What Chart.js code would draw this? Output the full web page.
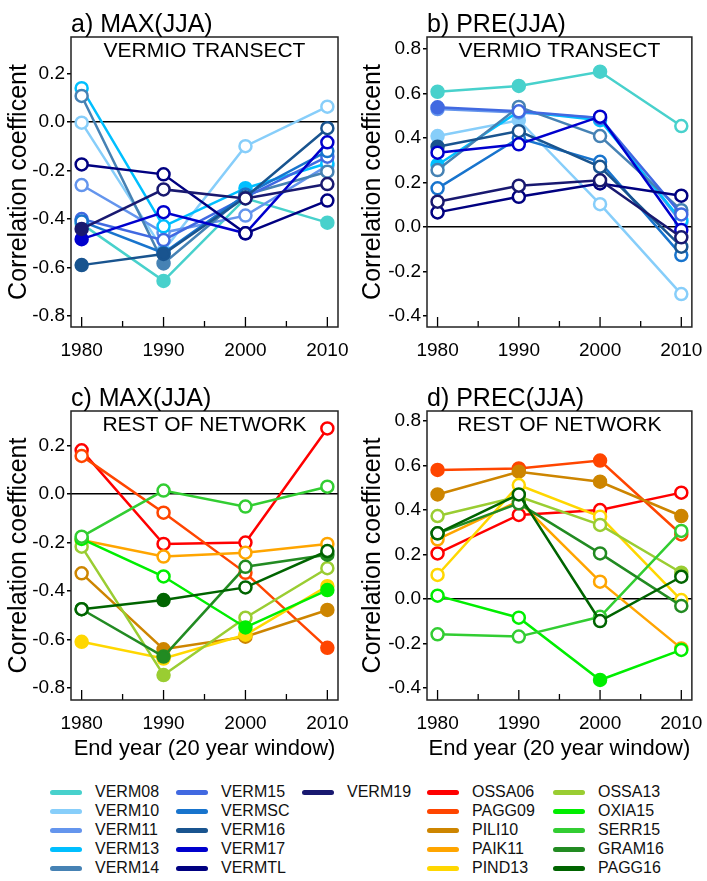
<!DOCTYPE html>
<html>
<head>
<meta charset="utf-8">
<script src="https://cdn.jsdelivr.net/npm/chart.js@4.4.1/dist/chart.umd.min.js"></script>
<style>
  body { margin: 0; background: #fff; width: 707px; height: 881px; position: relative; overflow: hidden; }
  canvas { position: absolute; }
  .lg { position: absolute; font: 16px Arial, "Liberation Sans", sans-serif; color: #111; white-space: nowrap; }
  .lg span { position: absolute; left: 0; top: 8px; width: 32px; height: 5px; border-radius: 3px; }
  .lg b { position: absolute; left: 45px; top: 0; font-weight: normal; line-height: 20px; }
</style>
</head>
<body>
<canvas id="chart_a" width="354" height="390" style="left:0;top:0"></canvas>
<canvas id="chart_b" width="353" height="390" style="left:354px;top:0"></canvas>
<canvas id="chart_c" width="354" height="406" style="left:0;top:374px"></canvas>
<canvas id="chart_d" width="353" height="406" style="left:354px;top:374px"></canvas>
<div id="legend"></div>
<script>
// end years of the 20 year windows
const years = [1980, 1990, 2000, 2010];
const minorYears = [1985, 1995, 2005];

// Vermio transect stations
const vermNames = ['VERM08', 'VERM10', 'VERM11', 'VERM13', 'VERM14', 'VERM15', 'VERMSC', 'VERM16', 'VERM17', 'VERMTL', 'VERM19'];
const vermColors = ['#48D1CC', '#87CEFA', '#6495ED', '#00BFFF', '#4682B4', '#4169E1', '#1874CD', '#19548F', '#0000CD', '#000080', '#191970'];

// rest of network
const restNames = ['OSSA06', 'PAGG09', 'PILI10', 'PAIK11', 'PIND13', 'OSSA13', 'OXIA15', 'SERR15', 'GRAM16', 'PAGG16'];
const restColors = ['#FF0000', '#FF4500', '#CD8500', '#FFA500', '#FFD700', '#9ACD32', '#00EE00', '#32CD32', '#228B22', '#006400'];

// a) MAX(JJA) vermio
const vermMax = [
    [-0.42, -0.655, -0.315, -0.415],
    [-0.003, -0.53, -0.10, 0.063],
    [-0.26, -0.456, -0.386, -0.18],
    [0.139, -0.43, -0.273, -0.17],
    [0.107, -0.583, -0.30, -0.205],
    [-0.40, -0.487, -0.31, -0.143],
    [-0.41, -0.54, -0.30, -0.12],
    [-0.59, -0.544, -0.31, -0.026],
    [-0.483, -0.372, -0.459, -0.084],
    [-0.175, -0.216, -0.459, -0.324],
    [-0.441, -0.278, -0.315, -0.256]
];
const vermMaxSig = [
    [0, 1, 0, 1], [0, 0, 0, 0], [0, 0, 0, 0], [0, 0, 1, 0], [0, 1, 0, 0], [0, 0, 0, 0],
    [0, 0, 0, 0], [1, 1, 0, 0], [1, 0, 0, 0], [0, 0, 0, 0], [1, 0, 0, 0]
];

// b) PRE(JJA) vermio
const vermPre = [
    [0.608, 0.634, 0.698, 0.454],
    [0.409, 0.48, 0.103, -0.301],
    [0.53, 0.515, 0.49, 0.02],
    [0.279, 0.52, 0.48, 0.03],
    [0.256, 0.54, 0.409, 0.076],
    [0.538, 0.52, 0.49, 0.057],
    [0.174, 0.40, 0.293, -0.126],
    [0.361, 0.431, 0.271, -0.088],
    [0.334, 0.372, 0.496, -0.013],
    [0.066, 0.136, 0.196, 0.141],
    [0.114, 0.186, 0.21, -0.046]
];
const vermPreSig = [
    [1, 1, 1, 0], [1, 1, 0, 0], [0, 0, 0, 0], [1, 0, 0, 0], [0, 0, 0, 0], [1, 0, 0, 0],
    [0, 0, 0, 0], [1, 0, 0, 0], [0, 0, 0, 0], [0, 0, 0, 0], [0, 0, 0, 0]
];

// c) MAX(JJA) rest of network
const restMax = [
    [0.18, -0.206, -0.20, 0.27],
    [0.157, -0.077, -0.325, -0.634],
    [-0.327, -0.64, -0.588, -0.478],
    [-0.19, -0.258, -0.242, -0.206],
    [-0.609, -0.678, -0.58, -0.38],
    [-0.217, -0.746, -0.51, -0.306],
    [-0.185, -0.34, -0.55, -0.396],
    [-0.176, 0.014, -0.052, 0.03],
    [-0.475, -0.67, -0.30, -0.25],
    [-0.475, -0.437, -0.385, -0.235]
];
const restMaxSig = [
    [0, 0, 0, 0], [0, 0, 0, 1], [0, 1, 1, 1], [0, 0, 0, 0], [1, 1, 1, 1],
    [0, 1, 0, 0], [0, 0, 1, 1], [0, 0, 0, 0], [0, 1, 0, 1], [0, 1, 0, 0]
];

// d) PREC(JJA) rest of network
const restPre = [
    [0.205, 0.378, 0.40, 0.478],
    [0.58, 0.587, 0.622, 0.29],
    [0.47, 0.572, 0.527, 0.373],
    [0.268, 0.44, 0.078, -0.222],
    [0.108, 0.512, 0.37, -0.005],
    [0.373, 0.46, 0.333, 0.118],
    [0.015, -0.084, -0.364, -0.229],
    [-0.159, -0.169, -0.08, 0.306],
    [0.295, 0.43, 0.205, -0.031],
    [0.295, 0.47, -0.099, 0.10]
];
const restPreSig = [
    [0, 0, 0, 0], [1, 1, 1, 0], [1, 1, 1, 1], [0, 0, 0, 0], [0, 0, 0, 0],
    [0, 0, 0, 1], [0, 0, 1, 0], [0, 0, 0, 0], [0, 0, 0, 0], [0, 0, 0, 0]
];

const maxTicks = [-0.8, -0.6, -0.4, -0.2, 0, 0.2];
const preTicks = [-0.4, -0.2, 0, 0.2, 0.4, 0.6, 0.8];

const FONT = 'Arial, "Liberation Sans", sans-serif';
Chart.defaults.font.family = FONT;
Chart.defaults.color = '#000';

// frame, inward x ticks, panel title and label
const decor = {
    id: 'decor',
    afterDraw(chart, args, opts) {
        const ctx = chart.ctx;
        const a = chart.chartArea;
        const x = chart.scales.x;
        ctx.save();
        ctx.strokeStyle = '#000';
        ctx.lineWidth = 1.3;
        ctx.beginPath();
        years.forEach(v => {
            const px = x.getPixelForValue(v);
            ctx.moveTo(px, a.bottom);
            ctx.lineTo(px, a.bottom - 10);
        });
        minorYears.forEach(v => {
            const px = x.getPixelForValue(v);
            ctx.moveTo(px, a.bottom);
            ctx.lineTo(px, a.bottom - 6);
        });
        ctx.stroke();
        ctx.lineWidth = 1.5;
        ctx.strokeStyle = '#222';
        ctx.strokeRect(a.left, a.top, a.right - a.left, a.bottom - a.top);
        ctx.fillStyle = '#000';
        ctx.font = '25px ' + FONT;
        ctx.textAlign = 'left';
        ctx.textBaseline = 'alphabetic';
        ctx.fillText(opts.title, a.left, a.top - 5);
        ctx.font = '21px ' + FONT;
        ctx.textAlign = 'center';
        ctx.fillText(opts.label, (a.left + a.right) / 2, a.top + 20);
        ctx.restore();
    }
};

function makeDatasets(names, colors, values, sig) {
    return names.map((name, i) => ({
        label: name,
        data: years.map((yr, j) => ({ x: yr, y: values[i][j] })),
        borderColor: colors[i],
        borderWidth: 2.5,
        pointRadius: 6,
        pointBorderWidth: 2.5,
        pointBorderColor: colors[i],
        pointBackgroundColor: sig[i].map(s => s ? colors[i] : '#fff'),
        order: names.length - i
    }));
}

function makeChart(id, cfg) {
    return new Chart(document.getElementById(id).getContext('2d'), {
        type: 'line',
        data: { datasets: makeDatasets(cfg.names, cfg.colors, cfg.values, cfg.sig) },
        options: {
            responsive: false,
            animation: false,
            devicePixelRatio: 1,
            layout: { padding: { left: 0, top: 37, right: cfg.padRight, bottom: 0 } },
            plugins: {
                legend: { display: false },
                tooltip: { enabled: false },
                decor: { title: cfg.title, label: cfg.label }
            },
            scales: {
                x: {
                    type: 'linear',
                    min: 1978.7,
                    max: 2011.3,
                    afterBuildTicks: s => { s.ticks = years.map(v => ({ value: v })); },
                    afterFit: s => { s.height = cfg.xHeight; },
                    grid: { display: false },
                    border: { display: false },
                    ticks: { font: { size: 19 }, padding: 4, maxRotation: 0, callback: v => String(v) },
                    title: {
                        display: cfg.xTitle,
                        text: 'End year (20 year window)',
                        font: { size: 22 },
                        padding: { top: 0, bottom: 18 }
                    }
                },
                y: {
                    type: 'linear',
                    min: cfg.yMin,
                    max: cfg.yMax,
                    afterBuildTicks: s => { s.ticks = cfg.yTicks.map(v => ({ value: v })); },
                    afterFit: s => { s.width = cfg.yWidth; },
                    grid: {
                        color: c => (c.tick && c.tick.value === 0) ? '#000' : 'rgba(0,0,0,0)',
                        lineWidth: 1.5,
                        tickColor: '#000',
                        tickLength: 4,
                        drawTicks: true
                    },
                    border: { display: false },
                    ticks: { font: { size: 19 }, padding: 2, callback: v => v.toFixed(1) },
                    title: {
                        display: true,
                        text: 'Correlation coefficent',
                        font: { size: 25 },
                        padding: { top: 4, bottom: 0 }
                    }
                }
            }
        },
        plugins: [decor]
    });
}

makeChart('chart_a', {
    names: vermNames, colors: vermColors, values: vermMax, sig: vermMaxSig,
    title: 'a) MAX(JJA)', label: 'VERMIO TRANSECT',
    yMin: -0.845, yMax: 0.35, yTicks: maxTicks, yWidth: 71, padRight: 16, xHeight: 63, xTitle: false
});
makeChart('chart_b', {
    names: vermNames, colors: vermColors, values: vermPre, sig: vermPreSig,
    title: 'b) PRE(JJA)', label: 'VERMIO TRANSECT',
    yMin: -0.449, yMax: 0.854, yTicks: preTicks, yWidth: 73, padRight: 14, xHeight: 63, xTitle: false
});
makeChart('chart_c', {
    names: restNames, colors: restColors, values: restMax, sig: restMaxSig,
    title: 'c) MAX(JJA)', label: 'REST OF NETWORK',
    yMin: -0.849, yMax: 0.342, yTicks: maxTicks, yWidth: 71, padRight: 16, xHeight: 80, xTitle: true
});
makeChart('chart_d', {
    names: restNames, colors: restColors, values: restPre, sig: restPreSig,
    title: 'd) PREC(JJA)', label: 'REST OF NETWORK',
    yMin: -0.454, yMax: 0.845, yTicks: preTicks, yWidth: 73, padRight: 14, xHeight: 80, xTitle: true
});

// legend below the panels, five columns
const legendCols = [
    vermNames.slice(0, 5), vermNames.slice(5, 10), vermNames.slice(10),
    restNames.slice(0, 5), restNames.slice(5)
];
const colX = [50, 176, 302, 427, 553];
const rowY = [782, 801, 820, 839, 858];
const legend = document.getElementById('legend');
legendCols.forEach((col, c) => {
    col.forEach((name, r) => {
        const vi = vermNames.indexOf(name);
        const color = vi >= 0 ? vermColors[vi] : restColors[restNames.indexOf(name)];
        const d = document.createElement('div');
        d.className = 'lg';
        d.style.left = colX[c] + 'px';
        d.style.top = rowY[r] + 'px';
        d.innerHTML = '<span style="background:' + color + '"></span><b>' + name + '</b>';
        legend.appendChild(d);
    });
});
</script>
</body>
</html>
